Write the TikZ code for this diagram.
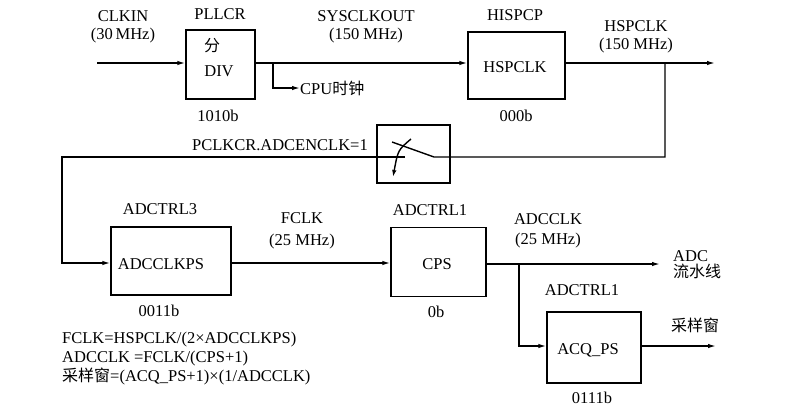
\documentclass[tikz,border=0pt]{standalone}
\usepackage{fontspec}
\setmainfont{Liberation Serif}
\newfontfamily\cjk{Noto Sans CJK SC}
\newcommand\zh[1]{{\cjk\fontsize{16}{18}\selectfont #1}}
\usetikzlibrary{arrows.meta}
\begin{document}
\begin{tikzpicture}[x=1pt,y=-1pt,
  every node/.style={font=\fontsize{16.5}{18}\selectfont, inner sep=0pt},
  box/.style={draw, line width=1.4pt},
  ln/.style={line width=1.4pt},
  arr/.style={ln, -{Latex[length=8pt,width=4.5pt]}},
  lbl/.style={align=center}]
\useasboundingbox (0,0) rectangle (788,416);
% boxes
\node[box, minimum width=69pt, minimum height=69pt] (pll) at (220.5,64.5) {};
\node (fen) at (212,46) {\zh{分}};
\node (div) at (219,71) {DIV};
\node[box, minimum width=97pt, minimum height=67pt] (hsp) at (516.5,65.5) {};
\node (hsptxt) at (515,67) {HSPCLK};
\node[box, minimum width=73pt, minimum height=58pt] (sw) at (413.5,154) {};
\node[box, minimum width=120pt, minimum height=68pt] (adcps) at (171,261) {};
\node (adcpstxt) at (161,264) {ADCCLKPS};
\node[box, minimum width=95pt, minimum height=69pt] (cps) at (438.5,262) {};
\node (cpstxt) at (437,264) {CPS};
\node[box, minimum width=94pt, minimum height=71pt] (acq) at (594,347.5) {};
\node (acqtxt) at (588,350) {ACQ\_PS};
% labels
\node[lbl] (clkin) at (123,27) {CLKIN\\(30\,MHz)};
\node (pllcr) at (220,14) {PLLCR};
\node (b1010) at (218,116) {1010b};
\node[lbl] (sysclk) at (366,27) {SYSCLKOUT\\(150 MHz)};
\node (hispcp) at (515,15) {HISPCP};
\node (b000) at (516,116) {000b};
\node[lbl] (hspl) at (636,37) {HSPCLK\\(150 MHz)};
\node[anchor=west] (cpu) at (300,88) {CPU\zh{时钟}};
\node[anchor=east] (pclk) at (368,145) {PCLKCR.ADCENCLK=1};
\node (adctrl3) at (160,209) {ADCTRL3};
\node (b0011) at (159,311) {0011b};
\node[lbl] (fclk) at (302,231) {FCLK\\[4pt](25 MHz)};
\node (adctrl1a) at (430,210) {ADCTRL1};
\node (b0b) at (436,312) {0b};
\node[lbl] (adcclk) at (548,231) {ADCCLK\\[2pt](25 MHz)};
\node[anchor=west, align=left] (pipe) at (673,265) {ADC\\[-2pt]\zh{流水线}};
\node (adctrl1b) at (582,290) {ADCTRL1};
\node (b0111) at (592,398) {0111b};
\node[anchor=west] (win) at (671,325) {\zh{采样窗}};
\node[anchor=west, align=left] (formula) at (62,359) {FCLK=HSPCLK/(2×ADCCLKPS)\\[1pt]ADCCLK =FCLK/(CPS+1)\\[1pt]\zh{采样窗}=(ACQ\_PS+1)×(1/ADCCLK)};
% coordinates
\coordinate (inL) at (97,63);
\coordinate (br1) at (273,63);
\coordinate (hdown) at (665,63);
\coordinate (hout) at (715,63);
\coordinate (swy) at (665,157);
\coordinate (leftx) at (62,157);
\coordinate (br2) at (519,264);
\coordinate (adcout) at (660,264);
\coordinate (winout) at (716,346);
\coordinate (pivot) at (434,157);
\coordinate (armend) at (392,142);
\coordinate (lin) at (405,157);
\coordinate (sarrs) at (411,139);
\coordinate (sarre) at (393,177);
% connectors
\draw[arr] (inL) -- (pll.west |- inL);
\draw[arr] (pll.east |- inL) -- (hsp.west |- inL);
\draw[arr] (br1) |- (cpu.west);
\draw[arr] (hsp.east |- hout) -- (hout);
\draw[ln] (hdown) -- (swy) -- (sw.east |- swy) -- (pivot) -- (armend);
\draw[ln] (lin) -- (sw.west |- swy);
\draw[arr] (sw.west |- swy) -- (leftx) |- (adcps.west |- 0,263);
\draw[ln, -{Latex[length=7pt,width=4.5pt]}] (sarrs) .. controls (398,150) .. (sarre);
\draw[arr] (adcps.east |- 0,263) -- (cps.west |- 0,263);
\draw[arr] (cps.east |- adcout) -- (adcout);
\draw[arr] (br2) |- (acq.west |- 0,346);
\draw[arr] (acq.east |- winout) -- (winout);
\end{tikzpicture}
\end{document}
